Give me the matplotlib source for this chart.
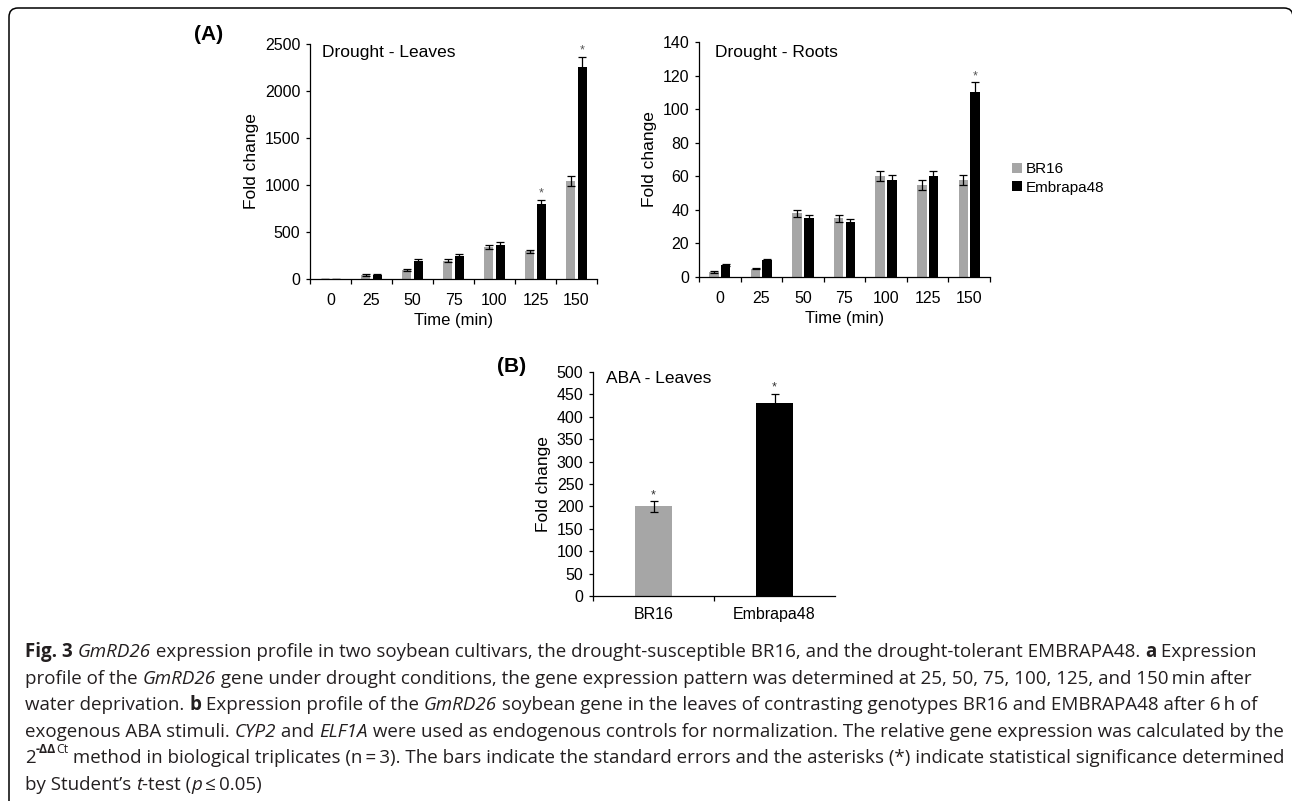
import matplotlib
matplotlib.use("Agg")
import matplotlib.pyplot as plt
import numpy as np
from matplotlib.patches import FancyBboxPatch, Patch

# ---------------- data ----------------
times = ["0", "25", "50", "75", "100", "125", "150"]
series_names = ["BR16", "Embrapa48"]

leaves_br16 = [1, 45, 100, 195, 340, 295, 1045]
leaves_br16_err = [1, 8, 10, 18, 20, 15, 55]
leaves_emb = [1, 45, 190, 245, 365, 795, 2250]
leaves_emb_err = [1, 8, 20, 20, 25, 50, 115]
leaves_sig = [False, False, False, False, False, True, True]

roots_br16 = [3, 5, 38, 35, 60, 55, 58]
roots_br16_err = [0.5, 0.5, 2, 2, 3, 3, 3]
roots_emb = [7, 10, 35, 33, 58, 60, 110]
roots_emb_err = [0.5, 0.5, 2, 1.5, 3, 3, 6]
roots_sig = [False, False, False, False, False, False, True]

aba_cats = ["BR16", "Embrapa48"]
aba_vals = [200, 430]
aba_err = [12, 22]
aba_sig = [True, True]

leaves_yticks = [0, 500, 1000, 1500, 2000, 2500]
roots_yticks = [0, 20, 40, 60, 80, 100, 120, 140]
aba_yticks = [0, 50, 100, 150, 200, 250, 300, 350, 400, 450, 500]

GRAY = "#a6a6a6"
BLACK = "#000000"

W, H = 1292, 801
fig = plt.figure(figsize=(W / 100, H / 100), dpi=100)
fig.patch.set_facecolor("white")

SANS = ["Liberation Sans", "DejaVu Sans"]
plt.rcParams["font.family"] = SANS


def fx(x):
    return x / W


def fy(y):
    return 1 - y / H


def add_axes_px(x0, x1, ytop, ybot):
    return fig.add_axes([fx(x0), fy(ybot), (x1 - x0) / W, (ybot - ytop) / H])


def style_axes(ax, ncat, yticks, ylim):
    for s in ["top", "right"]:
        ax.spines[s].set_visible(False)
    for s in ["left", "bottom"]:
        ax.spines[s].set_linewidth(0.9)
    ax.set_xlim(-0.5, ncat - 0.5)
    ax.set_ylim(*ylim)
    ax.set_yticks(yticks)
    ax.tick_params(axis="y", direction="out", length=3, width=0.9, pad=4,
                   labelsize=11.5)
    ax.set_xticks(np.arange(ncat))
    ax.tick_params(axis="x", which="major", length=0, pad=10, labelsize=11.5)
    ax.set_xticks(np.arange(ncat + 1) - 0.5, minor=True)
    ax.tick_params(axis="x", which="minor", direction="out", length=3.5,
                   width=0.9)
    ax.set_ylabel("Fold change", fontsize=12.5, labelpad=4)


def grouped(ax, a, aerr, b, berr, sig):
    x = np.arange(len(a))
    w = 0.23
    off = 0.14
    ekw = dict(ecolor="black", elinewidth=0.9, capsize=3, capthick=0.9)
    ax.bar(x - off, a, w, color=GRAY, yerr=aerr, error_kw=ekw, zorder=2)
    ax.bar(x + off, b, w, color=BLACK, yerr=berr, error_kw=ekw, zorder=2)
    for i, s in enumerate(sig):
        if s:
            ax.annotate("*", (x[i] + off, b[i] + berr[i]), xytext=(0, 0),
                        textcoords="offset points", ha="center", va="bottom",
                        fontsize=9, color="#555555")


# ---- (A) leaves ----
ax1 = add_axes_px(310, 597, 44, 279)
style_axes(ax1, len(times), leaves_yticks, (0, 2500))
grouped(ax1, leaves_br16, leaves_br16_err, leaves_emb, leaves_emb_err, leaves_sig)
ax1.set_xticklabels(times)
ax1.set_xlabel("Time (min)", fontsize=12, labelpad=4)

# ---- (A) roots ----
ax2 = add_axes_px(699, 990, 42, 277)
style_axes(ax2, len(times), roots_yticks, (0, 140))
grouped(ax2, roots_br16, roots_br16_err, roots_emb, roots_emb_err, roots_sig)
ax2.set_xticklabels(times)
ax2.set_xlabel("Time (min)", fontsize=12, labelpad=4)

# ---- (B) ABA ----
ax3 = add_axes_px(593, 835, 372, 596)
style_axes(ax3, len(aba_cats), aba_yticks, (0, 500))
ax3.set_xticks([-0.5, 0.5], minor=True)
xb = np.arange(len(aba_cats))
ax3.bar(xb, aba_vals, 0.314, color=[GRAY, BLACK], yerr=aba_err,
        error_kw=dict(ecolor="black", elinewidth=0.9, capsize=3, capthick=0.9),
        zorder=2)
for i, s in enumerate(aba_sig):
    if s:
        ax3.annotate("*", (xb[i], aba_vals[i] + aba_err[i]), xytext=(0, 0),
                     textcoords="offset points", ha="center", va="bottom",
                     fontsize=9, color="#333333")
ax3.set_xticklabels(aba_cats)
ax3.tick_params(axis="x", which="major", pad=8)

# panel texts
fig.text(fx(194), fy(35), "(A)", fontsize=15, fontweight="bold", ha="left", va="center")
fig.text(fx(497), fy(367), "(B)", fontsize=15, fontweight="bold", ha="left", va="center")
fig.text(fx(322), fy(53), "Drought - Leaves", fontsize=12.5, ha="left", va="center")
fig.text(fx(715), fy(53), "Drought - Roots", fontsize=12.5, ha="left", va="center")
fig.text(fx(606), fy(378), "ABA - Leaves", fontsize=12.5, ha="left", va="center")

# legend
handles = [Patch(facecolor=GRAY, edgecolor="none"), Patch(facecolor=BLACK, edgecolor="none")]
fig.legend(handles, series_names, loc="upper left",
           bbox_to_anchor=(fx(1012), fy(162)), frameon=False, fontsize=11,
           handlelength=0.65, handleheight=0.65, handletextpad=0.25,
           labelspacing=0.3, borderpad=0, borderaxespad=0)

# border box (rounded, partly cropped) drawn in inch units (1 px = 0.01 in)
bx0, bx1, by_top, by_bot = 9, 1293, 8, 830
box = FancyBboxPatch((bx0 / 100, (H - by_bot) / 100), (bx1 - bx0) / 100,
                     (by_bot - by_top) / 100,
                     boxstyle="round,pad=0,rounding_size=0.09",
                     transform=fig.dpi_scale_trans, facecolor="none",
                     edgecolor="black", linewidth=1.1, clip_on=False)
fig.patches.append(box)

# ---------------- caption ----------------
CAP_FONT = ["Open Sans", "DejaVu Sans"]
CAP_COLOR = "#231f20"
caption_lines = [
    [("Fig. 3", "b"), (" ", "n"), ("GmRD26", "i"),
     (" expression profile in two soybean cultivars, the drought-susceptible BR16, and the drought-tolerant EMBRAPA48. ", "n"),
     ("a", "b"), (" Expression", "n")],
    [("profile of the ", "n"), ("GmRD26", "i"),
     (" gene under drought conditions, the gene expression pattern was determined at 25, 50, 75, 100, 125, and 150\u2009min after", "n")],
    [("water deprivation. ", "n"), ("b", "b"), (" Expression profile of the ", "n"), ("GmRD26", "i"),
     (" soybean gene in the leaves of contrasting genotypes BR16 and EMBRAPA48 after 6\u2009h of", "n")],
    [("exogenous ABA stimuli. ", "n"), ("CYP2", "i"), (" and ", "n"), ("ELF1A", "i"),
     (" were used as endogenous controls for normalization. The relative gene expression was calculated by the", "n")],
    [("2", "n"), ("-\u0394\u0394", "supb"), ("Ct", "sup"),
     (" method in biological triplicates (n\u2009=\u20093). The bars indicate the standard errors and the asterisks (*) indicate statistical significance determined", "n")],
    [("by Student\u2019s ", "n"), ("t", "i"), ("-test (", "n"), ("p", "i"), ("\u2009\u2264\u20090.05)", "n")],
]
baselines = [657, 684, 710, 737, 763, 790]

renderer = fig.canvas.get_renderer()


def props(style, size):
    d = dict(family=CAP_FONT, color=CAP_COLOR, fontsize=size)
    if style == "b":
        d["fontweight"] = "bold"
    elif style == "i":
        d["fontstyle"] = "italic"
    elif style == "sup":
        d["fontsize"] = size * 0.65
    elif style == "supb":
        d["fontsize"] = size * 0.65
        d["fontweight"] = "bold"
    return d


def seg_width(s, style, size):
    p = props(style, size)
    t1 = fig.text(0, 0, "|" + s + "|", **p)
    t2 = fig.text(0, 0, "||", **p)
    w = t1.get_window_extent(renderer).width - t2.get_window_extent(renderer).width
    t1.remove()
    t2.remove()
    return w


def line_width(line, size):
    return sum(seg_width(s, st, size) for s, st in line)


base = 13.0
target = 1281 - 25
size = base * target / line_width(caption_lines[4], base)

for line, yb in zip(caption_lines, baselines):
    x = 25.0
    for s, st in line:
        p = props(st, size)
        ydraw = yb - (size * 0.55 * 100 / 72 if st in ("sup", "supb") else 0)
        fig.text(fx(x), fy(ydraw), s, va="baseline", ha="left", **p)
        x += seg_width(s, st, size)

fig.savefig("out.png", dpi=100, facecolor="white")
